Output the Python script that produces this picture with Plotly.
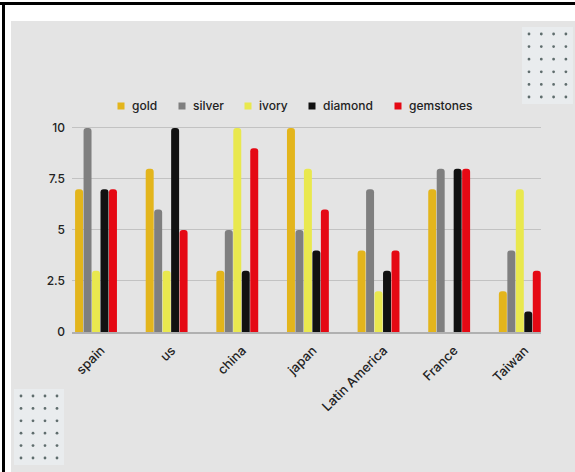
import plotly.graph_objects as go

categories = ["spain", "us", "china", "japan", "Latin America", "France", "Taiwan"]
gold = [7, 8, 3, 10, 4, 7, 2]
silver = [10, 6, 5, 5, 7, 8, 4]
ivory = [3, 3, 10, 8, 2, 0, 7]
diamond = [7, 10, 3, 4, 3, 8, 1]
gemstones = [7, 5, 9, 6, 4, 8, 3]
series_names = ["gold", "silver", "ivory", "diamond", "gemstones"]
series_colors = ["#e3b51c", "#7f7f7f", "#e9e84e", "#111111", "#e50914"]
y_ticks = [0, 2.5, 5, 7.5, 10]
y_tick_labels = ["0", "2.5", "5", "7.5", "10"]

series_values = [gold, silver, ivory, diamond, gemstones]

W, H = 575, 472
ML, MR, MT, MB = 72, 34, 120, 140
PW, PH = W - ML - MR, H - MT - MB


def px_x(px):
    return (px - ML) / PW


def px_y(py):
    return (H - MB - py) / PH


FONT = "Inter, Lato, sans-serif"
TXT = "#222222"

fig = go.Figure()
for name, vals, col in zip(series_names, series_values, series_colors):
    fig.add_trace(go.Bar(
        name=name, x=categories, y=vals, showlegend=False,
        marker=dict(color=col, cornerradius=4, line=dict(width=0)),
    ))

shapes = []
annotations = []
# gray card background
shapes.append(dict(type="rect", xref="paper", yref="paper",
                   x0=px_x(11), x1=px_x(W + 5), y0=px_y(H + 5), y1=px_y(21),
                   fillcolor="#e4e4e4", line=dict(width=0), layer="below"))
# black frame lines
shapes.append(dict(type="rect", xref="paper", yref="paper",
                   x0=px_x(-2), x1=px_x(W + 5), y0=px_y(5), y1=px_y(2),
                   fillcolor="#000000", line=dict(width=0), layer="below"))
shapes.append(dict(type="rect", xref="paper", yref="paper",
                   x0=px_x(2), x1=px_x(5), y0=px_y(H + 5), y1=px_y(2),
                   fillcolor="#000000", line=dict(width=0), layer="below"))


# decorative dot grids
def dot_grid(x0, y0, dx, dy, nx, ny):
    shapes.append(dict(type="rect", xref="paper", yref="paper",
                       x0=px_x(x0 - 7), x1=px_x(x0 + dx * (nx - 1) + 7),
                       y0=px_y(y0 + dy * (ny - 1) + 7), y1=px_y(y0 - 7),
                       fillcolor="#e9ecee", line=dict(width=0), layer="below"))
    for i in range(nx):
        for j in range(ny):
            cx = x0 + i * dx
            cy = y0 + j * dy
            shapes.append(dict(type="circle", xref="paper", yref="paper",
                               x0=px_x(cx - 1.4), x1=px_x(cx + 1.4),
                               y0=px_y(cy + 1.4), y1=px_y(cy - 1.4),
                               fillcolor="#5f6d6d", line=dict(width=0),
                               layer="below"))


dot_grid(529, 34, 12.3, 12.6, 4, 6)
dot_grid(21, 396, 12.0, 12.4, 4, 6)

# legend (small square swatch + label)
legend_marker_px = [121, 182, 248, 312, 398]
LEG_Y = 106
for name, col, mx in zip(series_names, series_colors, legend_marker_px):
    shapes.append(dict(type="rect", xref="paper", yref="paper",
                       x0=px_x(mx - 3.5), x1=px_x(mx + 3.5),
                       y0=px_y(LEG_Y + 3.5), y1=px_y(LEG_Y - 3.5),
                       fillcolor=col, line=dict(width=0)))
    annotations.append(dict(xref="paper", yref="paper", x=px_x(mx + 9),
                            y=px_y(LEG_Y), text=name, showarrow=False,
                            xanchor="left", yanchor="middle",
                            font=dict(family=FONT, size=12, color=TXT,
                                      weight=500)))

fig.update_layout(
    width=W, height=H,
    margin=dict(l=ML, r=MR, t=MT, b=MB, pad=0),
    paper_bgcolor="#ffffff",
    plot_bgcolor="rgba(0,0,0,0)",
    barmode="group",
    bargap=0.4,
    bargroupgap=0.06,
    showlegend=False,
    font=dict(family=FONT, size=12, color=TXT),
    xaxis=dict(range=[-0.34, 6.30], showgrid=False, showline=True,
               linecolor="#b0b0b0", linewidth=1.5, tickangle=-45,
               tickfont=dict(size=13, color=TXT, weight=500), ticks="",
               ticklabelstandoff=4, ticklabelshift=5),
    yaxis=dict(range=[0, 10.39], tickvals=y_ticks, ticktext=y_tick_labels,
               showgrid=True, gridcolor="#c2c2c2", gridwidth=1,
               zeroline=False, showline=False, ticklabelstandoff=6,
               tickfont=dict(size=12, color=TXT, weight=500)),
    shapes=shapes,
    annotations=annotations,
)

fig.write_html("out.html", config={"displayModeBar": False},
               post_script="document.body.style.margin='0';")
